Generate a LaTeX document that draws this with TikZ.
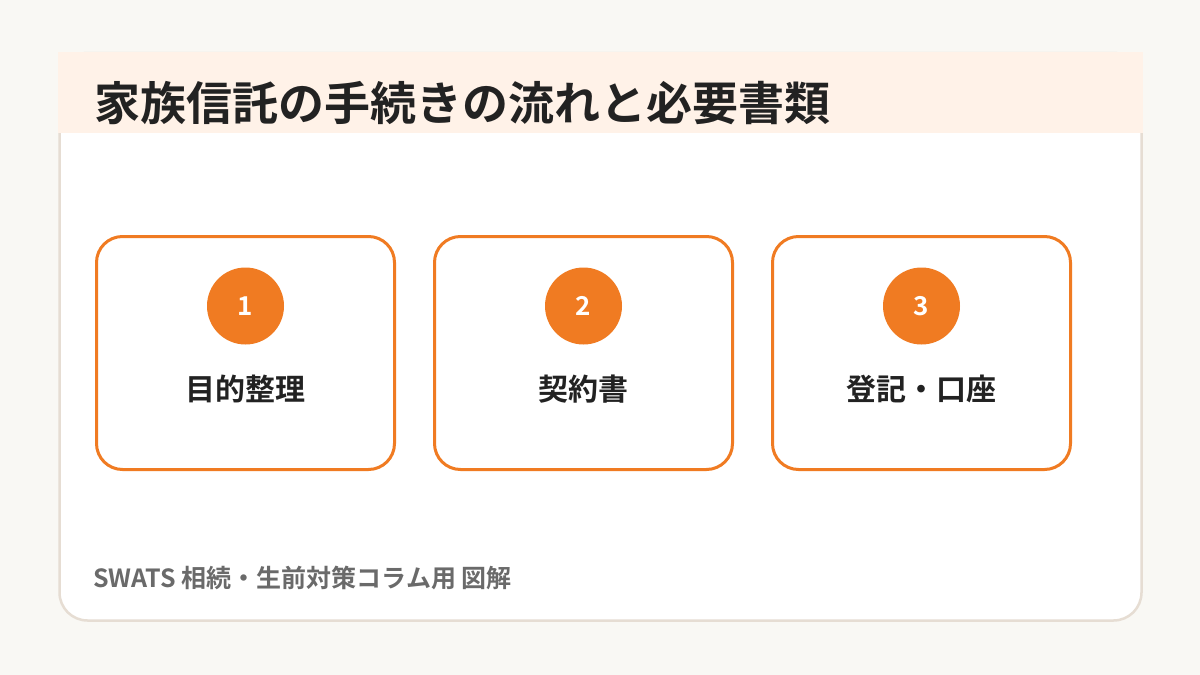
\documentclass[tikz,border=0pt]{standalone}
\usepackage{fontspec}
\newfontfamily\jpfont{Noto Sans CJK JP}[BoldFont={* Bold}]
\usetikzlibrary{positioning}

\definecolor{pagebg}{HTML}{F9F8F4}
\definecolor{cardline}{HTML}{E6DDD3}
\definecolor{headfill}{HTML}{FFF2E8}
\definecolor{accent}{HTML}{F07B22}
\definecolor{inkdark}{HTML}{222222}
\definecolor{inkgrey}{HTML}{6A6A6A}

\begin{document}
\begin{tikzpicture}[
	x=1pt, y=-1pt,
	every node/.style={font=\jpfont},
	stepcard/.style={
		rectangle, draw=accent, line width=3pt, rounded corners=26pt, fill=white,
		minimum width=298pt, minimum height=233pt, inner sep=0pt
	},
	badge/.style={
		circle, fill=accent, minimum size=77pt, inner sep=0pt,
		text=white, font=\jpfont\bfseries\fontsize{26}{30}\selectfont
	},
	steplabel/.style={text=inkdark, font=\jpfont\bfseries\fontsize{30}{34}\selectfont}
	]
	
	% Background and card
	\useasboundingbox[fill=pagebg] (0,0) rectangle (1200,675);
	\draw[cardline, line width=2.5pt, fill=white, rounded corners=28pt] (59.5,53) rectangle (1141.5,620.5);
	\fill[headfill] (58,52) rectangle (1143,133);
	\node[anchor=west, text=inkdark, font=\jpfont\bfseries\fontsize{46}{52}\selectfont, inner sep=0pt] (title) at (94,103) {家族信託の手続きの流れと必要書類};
	
	% Steps
	\node[stepcard] (card1) at (245.5,353) {};
	\node[stepcard, right=37pt of card1] (card2) {};
	\node[stepcard, right=37pt of card2] (card3) {};
	\node[badge] (num1) at ([yshift=47pt]card1.center) {1};
	\node[badge] (num2) at ([yshift=47pt]card2.center) {2};
	\node[badge] (num3) at ([yshift=47pt]card3.center) {3};
	\node[steplabel] (label1) at ([yshift=-36pt]card1.center) {目的整理};
	\node[steplabel] (label2) at ([yshift=-36pt]card2.center) {契約書};
	\node[steplabel] (label3) at ([yshift=-36pt]card3.center) {登記・口座};
	
	% Footer
	\node[anchor=west, text=inkgrey, font=\jpfont\bfseries\fontsize{25}{28}\selectfont, inner sep=0pt] (footer) at (93,578) {SWATS 相続・生前対策コラム用 図解};
\end{tikzpicture}
\end{document}
